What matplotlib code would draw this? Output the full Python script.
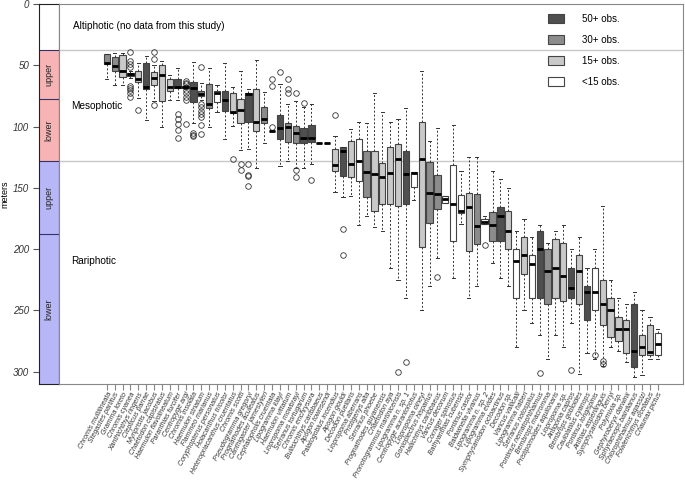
import numpy as np
import matplotlib.pyplot as plt
from matplotlib.patches import Patch

plt.rcParams['font.family'] = ['Liberation Sans', 'DejaVu Sans']

species = [
    'Chromis multilineata', 'Stegastes partitus', 'Gramma loreto', 'Chromis cyanea',
    'Xanthichthys ringens', 'Clepticus parrae', 'Myripristis jacobus', 'Chaetodon capistratus',
    'Haemulon flavolineatum', 'Paranthias furcifer', 'Centropyge argi', 'Chromis insolata',
    'Haemulon striatum', 'Flammeo marianus', 'Coryphopterus personatus', 'Holacanthus tricolor',
    'Heteropriacanthus cruentatus', 'Chromis scotti', 'Pseudogramma gregoryi', 'Prognathodes aculeatus',
    'Canthigaster jamestyleri', 'Cephalopholis cruentata', 'Lipogramma klayi', 'Haemulon vittatum',
    'Liopropoma mowbrayi', 'Serranus tortugarum', 'Chromis enchrysura', 'Bullisichthys caribbaeus',
    'Apogon townsendi', 'Palatogobius incendius', 'Apogon gouldi', 'Decodon puellaris',
    'Liopropoma aberrans', 'Pristigenys alta', 'Serranus phoebe', 'Prognathodes guyanensis',
    'Chaetodon aya', 'Pronotogrammus martinicensis', 'Lipogramma n. sp. 1', 'Centropyge aurantonotus',
    'Liopropoma olneyi', 'Gonioplectrus hispanus', 'Haliichthys caribbaeus', 'Varicus decorum',
    'Corniger spinosus', 'Bathyanthias cubensis', 'Pontinus castor', 'Baldwinella vivanus',
    'Lipogramma n. sp. 2', 'Lipogramma evides', 'Symphysanodon octoactinus', 'Decodon sp.',
    'Varicus vallicalli', 'Lipogramma haberi', 'Serranus notospilus', 'Pontinus nematophthalmus',
    'Bembrops macromma', 'Pristipomoides aquilonaris', 'Liopropoma sp.', 'Antigonia capros',
    'Bembrops gobioides', 'Caulolatilus cyanops', 'Pontinus longispinis', 'Anthias asperilinguis',
    'Symphysanodon berryi', 'Polymixia sp.', 'Gephyroberyx darwinii', 'Sphyraenops bairdianus',
    'Chlorophthalmus agassizi', 'Fowlerichthys ocellatus', 'Chaunax pictus',
]

# depth statistics (m): whisker end (shallow), q1, median, q3, whisker end (deep)
wlo = [41, 39.7, 39.7, 55, 48.4, 42.4, 50, 46.2, 58, 51.9, 66, 47.5, 64.7, 52.4, 66,
       48.4, 67.4, 54.6, 69.5, 45.6, 71.7, 104, 65.2, 81.8, 78.8, 83.7, 81.8, 113.6, 113.6, 108,
       117, 101.9, 96.5, 97.3, 72.8, 88.3, 96.5, 94, 85, 137.2, 55, 111.7, 100.8, 157, 98.6,
       136, 124.5, 124.5, 172.8, 136, 142.7, 150, 185, 175, 190, 180, 195, 185, 180, 200,
       190, 215, 200, 165, 225, 240, 245, 235, 250, 255, 265]
q1 = [41, 43.5, 42, 56.5, 54.3, 48.4, 55.2, 49.5, 61.4, 61.1, 66.5, 63.8, 70.9, 65.2, 70.7,
      70.7, 72.8, 77.7, 72.3, 69.5, 83.7, 104, 90.5, 97.3, 99.5, 100.8, 98.6, 113.6, 113.6, 118.5,
      117, 111.7, 110.3, 119.6, 119.6, 129.9, 117, 114.4, 119.8, 137.2, 95.9, 129.3, 139.4, 157, 131.2,
      155.7, 154.3, 154.9, 175.5, 169.8, 165.7, 168.7, 200, 190, 205, 185, 200, 192, 195, 215,
      205, 230, 215, 225, 240, 255, 258, 245, 270, 262, 268]
med = [48.5, 50.5, 54.6, 57.5, 61.4, 67.4, 60.6, 58.1, 67.4, 68, 67.4, 68.7, 73.5, 81.5, 72.3,
       78.3, 88, 86.4, 73.5, 96.5, 93.8, 104, 101.4, 100, 105.4, 109.5, 109.5, 113.6, 113.6, 131.4,
       119.6, 130.7, 128, 136.7, 138.8, 140.8, 138, 126.6, 138.6, 137.6, 126.6, 153.8, 155.2, 158.7, 163.3,
       168.7, 165.2, 181.5, 177.5, 180.2, 172.6, 184.8, 210, 205, 212, 200, 218, 215, 222, 232,
       218, 235, 235, 245, 250, 265, 265, 283, 280, 284, 277]
q3 = [49, 54.6, 59.8, 58.5, 63.8, 69.6, 66, 79.1, 70.9, 68.7, 68.5, 79.6, 74.7, 85, 79.6,
      87, 88.6, 97.3, 95.9, 104, 97.3, 104, 110.3, 112.2, 113.6, 113.6, 112.2, 113.6, 113.6, 136,
      140, 140.8, 144.8, 157.6, 168.7, 163.3, 163.3, 164.7, 163.3, 148.9, 198.4, 178.8, 167.4, 162, 193.7,
      170.6, 201.1, 195.6, 179.3, 193.7, 193.7, 200, 240, 220, 240, 240, 245, 240, 242, 240,
      245, 258, 250, 262, 272, 275, 285, 296, 286, 286, 286]
whi = [61, 66, 66, 60, 76.9, 94.6, 79.1, 100.5, 78.3, 78.3, 69, 97, 78, 100, 88.3,
       110.3, 99.5, 119, 118, 134, 113, 104, 132, 128, 134, 133.4, 130.4, 113.6, 113.6, 153.3,
       157.5, 156.5, 180, 172.8, 182.3, 185, 215, 225, 240, 160.3, 250, 230, 207.3, 162, 223.6,
       179.3, 240, 230, 179.3, 211.4, 223.6, 230, 280, 250, 260, 270, 290, 270, 280, 260,
       301.6, 285, 290, 295, 280, 283.4, 292, 304.6, 303, 289.4, 289.4]
fliers = [[], [], [], [39.4, 46.5, 48.9, 51.1, 66.8, 68.2, 70.1, 72.8, 75.6], [86.4], [], [39.1, 44.8, 82.3], [], [], [89.7, 93.8, 97.8, 102.7, 109],
          [62.5, 64.2, 65.5, 70.1, 72.8, 75.6, 78.3, 98.1], [105, 106.5, 108], [51.6, 81.5, 84.2, 87, 89.7, 92.4, 98.6, 106], [], [],
          [], [126.4], [130.4, 135.3], [130.4, 139.4, 140, 148.4], [], [], [61, 66.6, 100], [55.7], [61, 69.3, 73], [73, 135.5, 141],
          [80.4], [143.5], [], [], [90.3], [183.7, 204.6], [], [], [], [], [], [], [300.5], [292.4], [],
          [], [], [222.8], [], [], [], [], [], [196.5], [], [], [], [], [], [], [301], [], [], [], [298.4],
          [], [], [286], [291.6, 293.5], [], [], [], [], [], [], []]
# observation class: 0 = 50+, 1 = 30+, 2 = 15+, 3 = <15
nclass = [1, 1, 2, 0, 2, 0, 2, 2, 2, 0, 1, 0, 1, 1, 3,
          0, 2, 2, 0, 2, 1, 2, 0, 1, 1, 0, 0, 2, 2, 2,
          0, 2, 3, 1, 2, 2, 2, 2, 0, 3, 2, 1, 1, 3, 3,
          3, 2, 1, 3, 1, 0, 2, 3, 2, 3, 0, 1, 2, 2, 0,
          2, 0, 3, 2, 2, 2, 2, 0, 2, 2, 3]

class_labels = ['50+ obs.', '30+ obs.', '15+ obs.', '<15 obs.']
class_colors = ['#4f4f4f', '#8c8c8c', '#c9c9c9', '#ffffff']

zones = [0, 37.5, 77.5, 128, 187.5, 310]

fig = plt.figure(figsize=(6.85, 4.8), dpi=100)
axb = fig.add_axes([39 / 685, 96 / 480, 20 / 685, 380 / 480])
ax = fig.add_axes([59 / 685, 96 / 480, 624 / 685, 380 / 480], sharey=axb)

# zone strip
axb.axhspan(zones[0], zones[1], color='white', lw=0)
axb.axhspan(zones[1], zones[3], color='#f8b4b4', lw=0)
axb.axhspan(zones[3], zones[5], color='#b7b7f8', lw=0)
for z in zones[1:5]:
    axb.axhline(z, color='#333366', lw=0.8)
for lab, a, b in [('upper', zones[1], zones[2]), ('lower', zones[2], zones[3]),
                  ('upper', zones[3], zones[4]), ('lower', zones[4], zones[5])]:
    axb.text(0.5, (a + b) / 2, lab, rotation=90, ha='center', va='center', fontsize=6.5,
             color='#222222', transform=axb.get_yaxis_transform())
axb.set_xticks([])
axb.set_ylim(310, 0)
axb.set_yticks([0, 50, 100, 150, 200, 250, 300])
axb.set_yticklabels(['0', '50', '100', '150', '200', '250', '300'], fontstyle='italic', fontsize=7)
axb.tick_params(axis='y', length=4, color='#555555', labelcolor='#333333', pad=3)
axb.set_ylabel('meters', fontsize=6.5, labelpad=3)
for s in axb.spines.values():
    s.set_color('#222222')
    s.set_linewidth(0.8)

# boxes
stats = []
for i in range(len(species)):
    stats.append(dict(whislo=wlo[i], q1=q1[i], med=med[i], q3=q3[i], whishi=whi[i],
                      fliers=fliers[i], label=species[i]))
pos = np.arange(1, len(species) + 1)
bp = ax.bxp(stats, positions=pos, widths=0.8, patch_artist=True, manage_ticks=False,
            boxprops=dict(edgecolor='#444444', linewidth=0.8),
            medianprops=dict(color='black', linewidth=2, solid_capstyle='butt'),
            whiskerprops=dict(color='#333333', linewidth=0.7, linestyle=(0, (2, 2))),
            capprops=dict(color='#333333', linewidth=0.7),
            capwidths=0.4,
            flierprops=dict(marker='o', markersize=4, markerfacecolor='none',
                            markeredgecolor='#333333', markeredgewidth=0.6))
for patch, c in zip(bp['boxes'], nclass):
    patch.set_facecolor(class_colors[c])

ax.axhline(zones[1], color='#c8c8c8', lw=1, zorder=0)
ax.axhline(zones[3], color='#c8c8c8', lw=1, zorder=0)

ax.set_xlim(-5.07, len(species) + 3.2)
ax.set_xticks(pos)
ax.set_xticklabels(species, rotation=62, ha='right', rotation_mode='anchor',
                   fontstyle='italic', fontsize=5.0, color='#333333')
ax.tick_params(axis='x', length=4, color='#888888', pad=1)
ax.tick_params(axis='y', left=False, labelleft=False)
for s in ax.spines.values():
    s.set_color('#888888')
    s.set_linewidth(0.8)

ax.text(0.022, 18, 'Altiphotic (no data from this study)', fontsize=7.2,
        transform=ax.get_yaxis_transform(), va='center')
ax.text(0.019, 83, 'Mesophotic', fontsize=7.2, transform=ax.get_yaxis_transform(), va='center')
ax.text(0.019, 210, 'Rariphotic', fontsize=7.2, transform=ax.get_yaxis_transform(), va='center')

handles = [Patch(facecolor=c, edgecolor='#444444', linewidth=0.8) for c in class_colors]
ax.legend(handles, class_labels, loc='upper left', bbox_to_anchor=(0.7837, 0.975), frameon=False,
          fontsize=7, handlelength=1.65, handleheight=1.0, labelspacing=1.15, handletextpad=1.85,
          borderpad=0, borderaxespad=0)

fig.savefig('out.png', dpi=100)
